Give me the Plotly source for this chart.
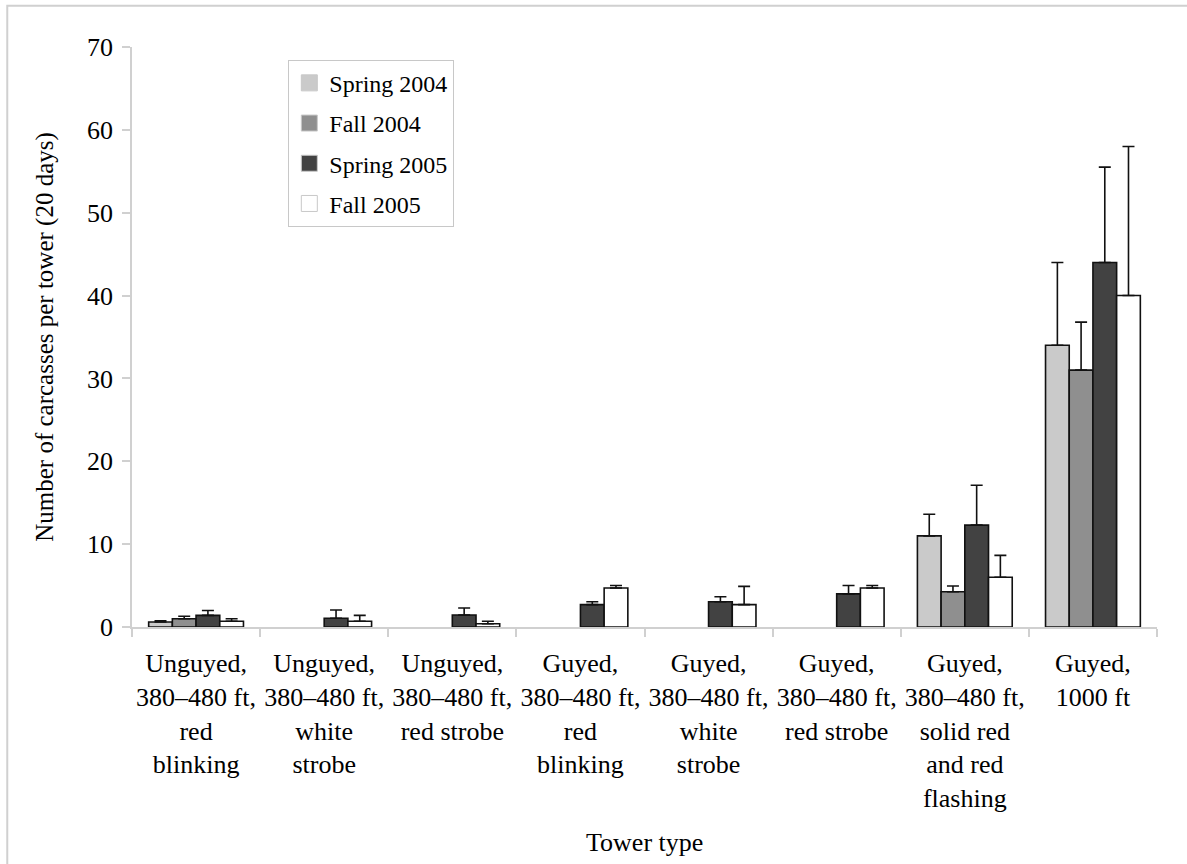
import plotly.graph_objects as go

# Tower categories (x axis)
categories = [
    "Unguyed,<br>380–480 ft,<br>red<br>blinking",
    "Unguyed,<br>380–480 ft,<br>white<br>strobe",
    "Unguyed,<br>380–480 ft,<br>red strobe",
    "Guyed,<br>380–480 ft,<br>red<br>blinking",
    "Guyed,<br>380–480 ft,<br>white<br>strobe",
    "Guyed,<br>380–480 ft,<br>red strobe",
    "Guyed,<br>380–480 ft,<br>solid red<br>and red<br>flashing",
    "Guyed,<br>1000 ft",
]

# Mean carcasses per tower (20 days) by season
spring_2004 = [0.6, None, None, None, None, None, 11.0, 34.0]
fall_2004 = [1.0, None, None, None, None, None, 4.25, 31.0]
spring_2005 = [1.4, 1.05, 1.45, 2.7, 3.05, 4.0, 12.3, 44.0]
fall_2005 = [0.7, 0.7, 0.4, 4.7, 2.7, 4.7, 6.0, 40.0]

# Upper error bars
spring_2004_err = [0.15, None, None, None, None, None, 2.6, 10.0]
fall_2004_err = [0.3, None, None, None, None, None, 0.7, 5.8]
spring_2005_err = [0.6, 1.0, 0.85, 0.35, 0.6, 1.0, 4.8, 11.5]
fall_2005_err = [0.3, 0.7, 0.3, 0.3, 2.2, 0.3, 2.65, 18.0]

series = [
    ("Spring 2004", spring_2004, spring_2004_err, "#cacaca"),
    ("Fall 2004", fall_2004, fall_2004_err, "#8f8f8f"),
    ("Spring 2005", spring_2005, spring_2005_err, "#424242"),
    ("Fall 2005", fall_2005, fall_2005_err, "#ffffff"),
]

FONT = "Liberation Serif"

fig = go.Figure()
for name, vals, errs, color in series:
    fig.add_trace(go.Bar(
        x=categories, y=vals, name=name, showlegend=False,
        marker=dict(color=color, line=dict(color="#111111", width=1.6)),
        error_y=dict(type="data", symmetric=False,
                     array=[e if e is not None else 0 for e in errs],
                     arrayminus=[0] * len(errs),
                     color="#111111", thickness=1.6, width=6),
    ))

# Legend entries with plain square swatches
for i, (name, vals, errs, color) in enumerate(series):
    fig.add_trace(go.Scatter(
        x=[None], y=[None], mode="markers", name=name,
        legendgroup=f"g{i}",
        marker=dict(symbol="square", size=18, color=color,
                    line=dict(color="#c8c8c8", width=1)),
    ))

fig.update_layout(
    width=1187, height=864,
    margin=dict(l=132, r=30, t=47, b=237),
    paper_bgcolor="white", plot_bgcolor="white",
    font=dict(family=FONT, size=26, color="black"),
    barmode="group", bargap=0.26, bargroupgap=0,
    legend=dict(
        x=0.1525, y=0.978, xanchor="left", yanchor="top",
        bordercolor="#c8c8c8", borderwidth=1, bgcolor="white",
        font=dict(family=FONT, size=24, color="black"),
        tracegroupgap=6, itemwidth=30,
    ),
    xaxis=dict(
        type="category", automargin=False,
        showline=True, linecolor="#d0d0d0", linewidth=1.5,
        ticks="outside", tickson="boundaries", ticklen=8,
        tickcolor="#d0d0d0", tickwidth=1.5,
        showgrid=False, tickangle=0, ticklabelstandoff=12,
        tickfont=dict(family=FONT, size=26),
    ),
    yaxis=dict(
        range=[0, 70], dtick=10, automargin=False,
        showline=True, linecolor="#d0d0d0", linewidth=1.5,
        ticks="outside", ticklen=8, tickcolor="#d0d0d0", tickwidth=1.5,
        showgrid=False, zeroline=False, ticklabelstandoff=4,
        tickfont=dict(family=FONT, size=26),
        title=dict(text="Number of carcasses per tower (20 days)", standoff=26,
                   font=dict(family=FONT, size=25)),
    ),
    annotations=[dict(
        text="Tower type", xref="paper", yref="paper",
        x=0.5, y=-0.3724, xanchor="center", yanchor="middle",
        showarrow=False, font=dict(family=FONT, size=26, color="black"),
    )],
    shapes=[dict(
        type="rect", xref="paper", yref="paper",
        x0=-0.1217, x1=1.16, y0=-0.42, y1=1.071,
        line=dict(color="#d0d0d0", width=2), fillcolor="rgba(0,0,0,0)",
        layer="below",
    )],
)

fig.write_html("out.html")
